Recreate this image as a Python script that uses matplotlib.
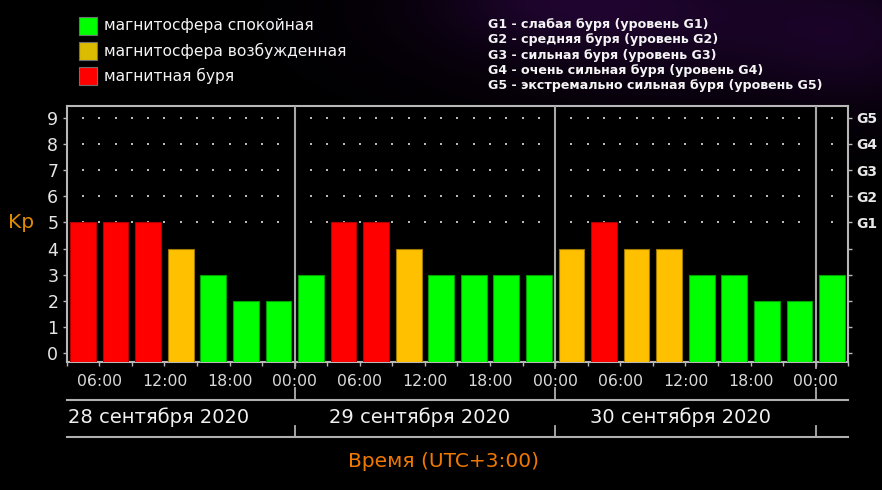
import numpy as np
import matplotlib
matplotlib.use("Agg")
import matplotlib.pyplot as plt
from matplotlib.lines import Line2D
from matplotlib.patches import Rectangle

# ---------------- data ----------------
kp_values = [5, 5, 5, 4, 3, 2, 2,
             3, 5, 5, 4, 3, 3, 3, 3,
             4, 5, 4, 4, 3, 3, 2, 2,
             3]
start_hour = 3          # first interval starts 28 Sep 03:00
interval_h = 3
tick_hours = [6, 12, 18, 24, 30, 36, 42, 48, 54, 60, 66, 72]
tick_labels = ["06:00", "12:00", "18:00", "00:00"] * 3
day_bounds = [24, 48, 72]
day_labels = ["28 сентября 2020", "29 сентября 2020", "30 сентября 2020"]
day_centers = [12, 36, 60]
g_levels = [5, 6, 7, 8, 9]
g_labels = ["G1", "G2", "G3", "G4", "G5"]
legend_colors = ["#00ff00", "#dcbc00", "#ff0000"]
legend_texts = ["магнитосфера спокойная", "магнитосфера возбужденная", "магнитная буря"]
g_legend = ["G1 - слабая буря (уровень G1)",
            "G2 - средняя буря (уровень G2)",
            "G3 - сильная буря (уровень G3)",
            "G4 - очень сильная буря (уровень G4)",
            "G5 - экстремально сильная буря (уровень G5)"]

W, H = 882, 490
fig = plt.figure(figsize=(W / 100, H / 100), dpi=100)
fig.patch.set_facecolor("black")

# background with faint purple glow
bg = fig.add_axes([0, 0, 1, 1], zorder=-10)
yy, xx = np.mgrid[0:H, 0:W]
glow = (0.45 * np.exp(-(((xx - 700) / 260) ** 2 + ((yy - 20) / 80) ** 2))
        + 0.30 * np.exp(-(((xx - 560) / 120) ** 2 + ((yy - 0) / 40) ** 2))
        + 0.20 * np.exp(-(((xx - 860) / 90) ** 2 + ((yy - 50) / 70) ** 2)))
img = np.zeros((H, W, 3))
img[..., 0] = 0.20 * glow
img[..., 1] = 0.03 * glow
img[..., 2] = 0.30 * glow
bg.imshow(np.clip(img, 0, 1), aspect="auto", extent=[0, W, H, 0])
bg.set_xlim(0, W)
bg.set_ylim(H, 0)
bg.axis("off")

# main axes
x0, x1 = 66.7, 848.3
ytop, ybot = 106, 362
ax = fig.add_axes([x0 / W, 1 - ybot / H, (x1 - x0) / W, (ybot - ytop) / H])
ax.set_facecolor("black")
ymin, ymax = -0.33, 9.45
ax.set_xlim(3, 75)
ax.set_ylim(ymin, ymax)

def kp_color(v):
    if v >= 5:
        return "#ff0000", "#b00000"
    if v == 4:
        return "#ffc000", "#a07800"
    return "#00ff00", "#00a000"

centers = [start_hour + interval_h * (i + 0.5) for i in range(len(kp_values))]
for c, v in zip(centers, kp_values):
    fc, ec = kp_color(v)
    ax.bar(c, v - ymin, bottom=ymin, width=2.37, color=fc, edgecolor=ec,
           linewidth=0.8, zorder=3)

# dotted grid
dot_x = [h for h in np.arange(4.5, 75, 1.5) if h not in day_bounds]
for lvl in g_levels:
    ax.scatter(dot_x, [lvl] * len(dot_x), s=1.2, marker="s", color="#b8b8b8",
               linewidths=0, zorder=2)

# day separator lines
for d in day_bounds:
    ax.axvline(d, color="#a8a8a8", lw=1.5, zorder=4)

frame_c = "#b8b8b8"
for s in ax.spines.values():
    s.set_color(frame_c)
    s.set_linewidth(1.5)

ax.set_yticks(range(10))
ax.set_yticklabels([str(i) for i in range(10)], fontsize=12.5, color="#e6e6e6",
                   family="DejaVu Sans")
ax.tick_params(axis="y", colors=frame_c, length=3, width=1, pad=3,
               labelcolor="#e6e6e6")
ax.set_xticks(np.arange(3, 76, 3))
ax.set_xticklabels([])
ax.tick_params(axis="x", colors=frame_c, length=3, width=1)

for h, lab in zip(tick_hours, tick_labels):
    ax.text(h, (ybot - 381) / (ybot - ytop), lab, transform=ax.get_xaxis_transform(),
            ha="center", va="center", fontsize=11.3, color="#d8d8d8",
            family="DejaVu Sans")

# right G axis
axr = ax.twinx()
axr.set_ylim(ymin, ymax)
axr.set_yticks(range(10))
axr.set_yticklabels(["" if i not in g_levels else g_labels[g_levels.index(i)]
                     for i in range(10)], fontsize=10, fontweight="bold",
                    color="#e8e8e8", family="DejaVu Sans")
axr.tick_params(axis="y", colors=frame_c, length=3, width=1, pad=3,
                labelcolor="#e8e8e8")
for s in axr.spines.values():
    s.set_visible(False)

# Kp label
fig.text(8 / W, 1 - 222 / H, "Kp", color="#e08a00", fontsize=14.5,
         ha="left", va="center", family="DejaVu Sans")

# below-axis date strip
trans = ax.get_xaxis_transform()
def fy(p):
    return (ybot - p) / (ybot - ytop)

lc = "#b0b0b0"
for yp in (399.5, 436.7):
    ax.add_line(Line2D([3, 75], [fy(yp), fy(yp)], transform=trans, color=lc,
                       lw=1.5, clip_on=False))
for d in day_bounds:
    ax.add_line(Line2D([d, d], [fy(362), fy(368)], transform=trans, color=lc,
                       lw=1.3, clip_on=False))
    ax.add_line(Line2D([d, d], [fy(388), fy(399.5)], transform=trans, color=lc,
                       lw=1.3, clip_on=False))
    ax.add_line(Line2D([d, d], [fy(426), fy(436.7)], transform=trans, color=lc,
                       lw=1.3, clip_on=False))

for c, lab in zip(day_centers, day_labels):
    ax.text(c - 0.5, fy(417), lab, transform=trans, ha="center", va="center",
            fontsize=14, color="#f0f0f0", family="DejaVu Sans")

fig.text(444 / W, 1 - 461.5 / H, "Время (UTC+3:00)", ha="center", va="center",
         fontsize=14.5, color="#f07800", family="DejaVu Sans")

# top-left legend
for i, (col, txt) in enumerate(zip(legend_colors, legend_texts)):
    ytop_sq = 16.7 + 25 * i
    fig.patches.append(Rectangle((79.3 / W, 1 - (ytop_sq + 18) / H), 18 / W, 18 / H,
                                 transform=fig.transFigure, facecolor=col,
                                 edgecolor="#707070", lw=0.8))
    fig.text(104 / W, 1 - (ytop_sq + 9) / H, txt, ha="left", va="center",
             fontsize=11.2, color="#f4f4f4", family="DejaVu Sans")

# top-right G legend
for i, txt in enumerate(g_legend):
    fig.text(488 / W, 1 - (24.5 + 15.25 * i) / H, txt, ha="left", va="center",
             fontsize=9.1, fontweight="bold", color="#f4f4f4", family="DejaVu Sans")

fig.savefig("out.png", dpi=100, facecolor="black")
